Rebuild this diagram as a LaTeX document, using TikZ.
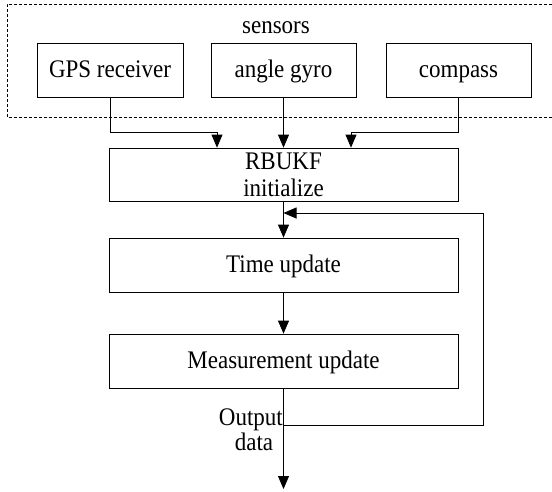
\documentclass[tikz,border=0pt]{standalone}
\usepackage{fontspec}
\usepackage{graphicx}
\setmainfont{Liberation Serif}
\usetikzlibrary{arrows.meta}
\newcommand\vs[1]{\scalebox{1}[1.1]{#1}}
\begin{document}
\begin{tikzpicture}[x=1pt,y=-1pt,
  box/.style={draw, line width=0.8pt, minimum height=54pt, inner sep=0pt,
    font=\fontsize{23}{27}\selectfont, align=center, text height=16pt, text depth=1pt},
  sbox/.style={box, minimum width=146pt, minimum height=54pt},
  wbox/.style={box, minimum width=349pt},
  conn/.style={line width=0.8pt},
  arr/.style={conn, -{Triangle[length=13pt,width=11pt]}},
  lbl/.style={font=\fontsize{23}{27}\selectfont, inner sep=0pt}]
\useasboundingbox (0,0) rectangle (552,491);
\draw[line width=0.8pt, dash pattern=on 3pt off 2pt] (552,4) -- (7,4) -- (7,117) -- (552,117);
\node[lbl, anchor=base] (sens) at (276,33) {\vs{sensors}};
\node[sbox] (gps) at (110,70) {\vs{GPS receiver}};
\node[sbox, minimum width=145pt] (gyro) at (283.5,70) {\vs{angle gyro}};
\node[sbox, minimum width=145pt] (comp) at (458.5,70) {\vs{compass}};
\node[wbox, minimum height=53pt, text height=, text depth=] (init) at (283.5,174.5) {\vs{RBUKF}\\\vs{initialize}};
\node[wbox] (time) at (283.5,265) {\vs{Time update}};
\node[wbox] (meas) at (283.5,361) {\vs{Measurement update}};
\coordinate (out) at (283.5,489);
\coordinate (fb) at (283.5,425);
\coordinate (fr) at (483,425);
\coordinate (ft) at (483,213);
\coordinate (fi) at (283.5,213);
\coordinate (gl) at (217,132);
\coordinate (cl) at (351,132);
\draw[arr] (gps.south) |- (gl) -- (gl |- init.north);
\draw[arr] (gyro.south) -- (gyro.south |- init.north);
\draw[arr] (comp.south) |- (cl) -- (cl |- init.north);
\draw[arr] (init.south) -- (time.north);
\draw[arr] (time.south) -- (meas.north);
\draw[arr] (meas.south) -- (out);
\draw[arr] (fb) -- (fr) -- (ft) -- (fi);
\node[lbl, anchor=base east] (o1) at (283,425) {\vs{Output}};
\node[lbl, anchor=base] (o2) at (254,450) {\vs{data}};
\end{tikzpicture}
\end{document}
